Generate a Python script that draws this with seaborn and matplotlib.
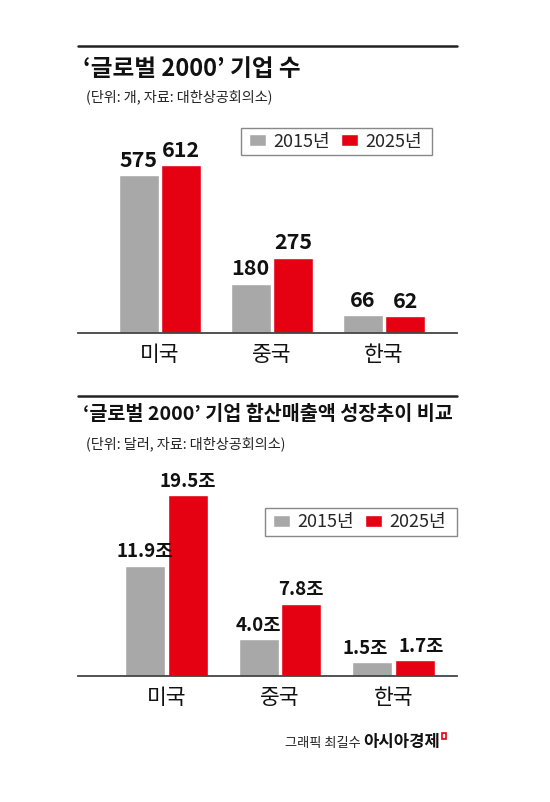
import matplotlib
matplotlib.use("Agg")
import matplotlib.pyplot as plt
import seaborn as sns
import pandas as pd
from matplotlib.lines import Line2D
from matplotlib.patches import Rectangle

# data
countries = ['미국', '중국', '한국']
years = ['2015년', '2025년']
firms_2015 = [575, 180, 66]
firms_2025 = [612, 275, 62]
sales_2015 = [11.9, 4.0, 1.5]
sales_2025 = [19.5, 7.8, 1.7]

GRAY = '#a8a8a8'
RED = '#e50012'

sns.set_theme(style='white')
plt.rcParams['font.family'] = ['Noto Sans CJK KR', 'DejaVu Sans']

W, H = 550, 802
fig = plt.figure(figsize=(W / 100, H / 100), dpi=100)
fig.patch.set_facecolor('white')


def fx(px):
    return px / W


def fy(py):
    return 1 - py / H


def long_df(a, b):
    return pd.DataFrame({
        '국가': countries * 2,
        '연도': [years[0]] * 3 + [years[1]] * 3,
        '값': a + b,
    })


def panel(top_px, bottom_px, ymax, xlim, df, fmt, width, label_size,
          legend_center, legend_box, nudge=0):
    ax = fig.add_axes([fx(78), fy(bottom_px), fx(457) - fx(78), (bottom_px - top_px) / H])
    sns.barplot(data=df, x='국가', y='값', hue='연도', palette=[GRAY, RED],
                width=width, gap=0.06, errorbar=None, ax=ax, saturation=1)
    ax.set_xlim(*xlim)
    ax.set_ylim(0, ymax)
    ax.set_xlabel('')
    ax.set_ylabel('')
    ax.set_yticks([])
    for s in ['top', 'left', 'right']:
        ax.spines[s].set_visible(False)
    ax.spines['bottom'].set_color('#444444')
    ax.spines['bottom'].set_linewidth(1.3)
    ax.tick_params(axis='x', length=0, pad=8, labelsize=15.5, labelcolor='#111111')
    for i, cont in enumerate(ax.containers):
        anns = ax.bar_label(cont, labels=[fmt(v) for v in cont.datavalues], padding=3,
                            fontsize=label_size, fontweight='bold', color='#111111')
        # small sideways nudge so the 한국 pair doesn't collide
        if nudge:
            anns[2].xyann = ((-nudge if i == 0 else nudge), 3)
    handles, labels = ax.get_legend_handles_labels()
    ax.legend(handles, labels, loc='center', ncol=2, frameon=False,
              bbox_to_anchor=(fx(legend_center[0]), fy(legend_center[1])),
              bbox_transform=fig.transFigure, fontsize=13, handlelength=0.95,
              handleheight=0.65, handletextpad=0.4, columnspacing=0.6,
              borderpad=0, borderaxespad=0)
    x0, y0, x1, y1 = legend_box
    fig.patches.append(Rectangle((fx(x0), fy(y1)), fx(x1) - fx(x0), (y1 - y0) / H,
                                 transform=fig.transFigure, fill=False,
                                 edgecolor='#888888', linewidth=1.0))
    return ax


# top panel
fig.add_artist(Line2D([fx(78), fx(457)], [fy(46), fy(46)], color='#222222', linewidth=1.8))
fig.text(fx(83), fy(69), '‘글로벌 2000’ 기업 수', fontsize=17, fontweight='bold',
         va='center', ha='left', color='#111111')
fig.text(fx(86), fy(97), '(단위: 개, 자료: 대한상공회의소)', fontsize=10.2,
         va='center', ha='left', color='#222222')
panel(120, 333, 776, (-0.732, 2.652), long_df(firms_2015, firms_2025),
      lambda v: f'{v:.0f}', 0.76, 15.5, (335.5, 141.5), (241, 128, 432, 155))

# bottom panel
fig.add_artist(Line2D([fx(78), fx(457)], [fy(396), fy(396)], color='#222222', linewidth=1.8))
fig.text(fx(83), fy(414), '‘글로벌 2000’ 기업 합산매출액 성장추이 비교', fontsize=14.1,
         fontweight='bold', va='center', ha='left', color='#111111')
fig.text(fx(86), fy(444), '(단위: 달러, 자료: 대한상공회의소)', fontsize=10.2,
         va='center', ha='left', color='#222222')
panel(470, 676, 22.2, (-0.78, 2.56), long_df(sales_2015, sales_2025),
      lambda v: f'{v:.1f}조', 0.75, 13.5, (359.5, 522), (265, 508, 457, 536), nudge=5)

# credit
fig.text(fx(440), fy(742), '아시아경제', fontsize=12, fontweight='bold',
         ha='right', va='center', color='#111111')
fig.text(fx(361), fy(743), '그래픽 최길수', fontsize=9.5, ha='right', va='center',
         color='#222222')
fig.patches.append(Rectangle((fx(442), fy(739)), fx(4), 6 / H, transform=fig.transFigure,
                             fill=False, edgecolor=RED, linewidth=1.2))

fig.savefig('out.png', dpi=100)
